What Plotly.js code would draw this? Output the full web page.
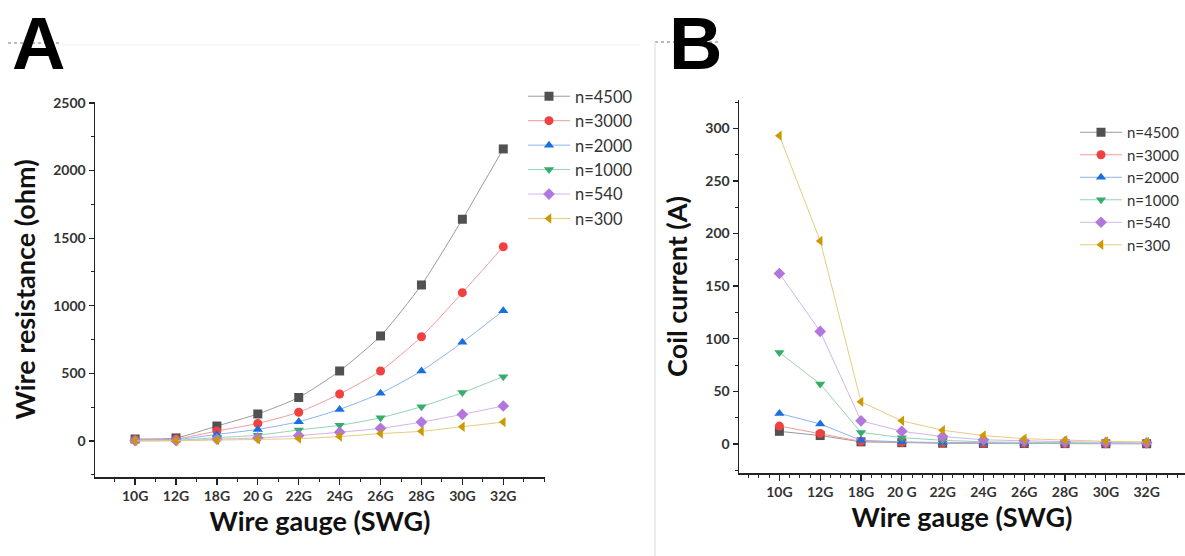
<!DOCTYPE html>
<html>
<head>
<meta charset="utf-8">
<script src="https://cdn.plot.ly/plotly-3.0.1.min.js"></script>
<style>html,body{margin:0;padding:0;background:#fff;}#chart{width:1185px;height:556px;}</style>
</head>
<body>
<div id="chart"></div>
<script>
// ---- data ----
const categories = ['10G','12G','18G','20 G','22G','24G','26G','28G','30G','32G'];
const seriesNames = ['n=4500','n=3000','n=2000','n=1000','n=540','n=300'];

// Panel A: wire resistance (ohm)
const res4500 = [15, 23, 111, 200, 322, 518, 777, 1154, 1640, 2160];
const res3000 = [10, 15, 74, 130, 213, 348, 518, 771, 1097, 1437];
const res2000 = [7, 10, 49, 86, 143, 234, 353, 518, 730, 964];
const res1000 = [3, 5, 25, 43, 82, 116, 172, 254, 358, 476];
const res540  = [2, 3, 13, 23, 40, 65, 94, 140, 197, 259];
const res300  = [1, 2, 7, 12, 18, 33, 55, 72, 106, 140];

// Panel B: coil current (A)
const cur4500 = [12, 8, 2, 1.2, 0.7, 0.5, 0.4, 0.3, 0.2, 0.2];
const cur3000 = [17, 10, 2.5, 1.5, 1, 0.7, 0.5, 0.4, 0.3, 0.3];
const cur2000 = [29, 19, 3.5, 2, 1.3, 0.9, 0.7, 0.5, 0.4, 0.4];
const cur1000 = [87, 57, 11, 6, 3.5, 2, 1.5, 1, 0.8, 0.6];
const cur540  = [162, 107, 22, 12, 7, 4, 3, 2, 1.5, 1.1];
const cur300  = [293, 193, 40, 22, 13, 8, 5, 3.5, 2.5, 2];

// ---- styles ----
const colors  = ['#515151', '#F14040', '#1A6FDF', '#37AD6B', '#B177DE', '#CC9900'];
const lineCol = ['#9a9a9a', '#f59a9a', '#8cb4ec', '#96d4b0', '#d3b4ec', '#e6cc80'];
const symbols = ['square', 'circle', 'triangle-up', 'triangle-down', 'diamond', 'triangle-left'];

const W = 1185, H = 556;
const xIdx = categories.map((_, i) => i);
const resSeries = [res4500, res3000, res2000, res1000, res540, res300];
const curSeries = [cur4500, cur3000, cur2000, cur1000, cur540, cur300];

const traces = [];
resSeries.forEach((ys, k) => traces.push({
  x: xIdx, y: ys, name: seriesNames[k], type: 'scatter', mode: 'lines+markers',
  xaxis: 'x', yaxis: 'y', legend: 'legend',
  line: {color: lineCol[k], width: 1, shape: 'spline', smoothing: 0.6},
  marker: {symbol: symbols[k], size: 9, color: colors[k]}
}));
curSeries.forEach((ys, k) => traces.push({
  x: xIdx, y: ys, name: seriesNames[k], type: 'scatter', mode: 'lines+markers',
  xaxis: 'x2', yaxis: 'y2', legend: 'legend2',
  line: {color: lineCol[k], width: 1},
  marker: {symbol: symbols[k], size: 9, color: colors[k]}
}));

const tickFont = {family: 'Lato, "Open Sans", sans-serif', size: 14, color: '#333', weight: 'bold'};
const titleFont = {family: 'Lato, "Open Sans", sans-serif', size: 27, color: '#111', weight: 'bold'};

function xAxis(domain, range, minorStep) {
  return {
    domain: domain, range: range, type: 'linear',
    tickvals: xIdx, ticktext: categories,
    showgrid: false, zeroline: false, showline: true, linecolor: '#222', linewidth: 1.5,
    ticks: 'outside', ticklen: 6, tickwidth: 1.3, tickcolor: '#222',
    minor: {dtick: minorStep, tick0: 0, ticks: 'outside', ticklen: 3, tickcolor: '#222', tickwidth: 1},
    tickfont: tickFont,
    title: {text: 'Wire gauge (SWG)', font: titleFont, standoff: 6}
  };
}
function yAxis(domain, range, dtick, anchor, title) {
  return {
    domain: domain, range: range, anchor: anchor,
    dtick: dtick, tick0: 0,
    showgrid: false, zeroline: false, showline: true, linecolor: '#222', linewidth: 1.5,
    ticks: 'outside', ticklen: 5, tickwidth: 1.3, tickcolor: '#222',
    minor: {dtick: dtick / 2, ticks: 'outside', ticklen: 3, tickcolor: '#222', tickwidth: 1},
    tickfont: tickFont,
    title: {text: title, font: titleFont, standoff: 10}
  };
}

const letterFont = {family: '"Liberation Sans", Arial, sans-serif', size: 74, color: '#000', weight: 'bold'};

const layout = {
  width: W, height: H,
  margin: {l: 0, r: 0, t: 0, b: 0},
  paper_bgcolor: '#fff', plot_bgcolor: '#fff',
  showlegend: true,
  xaxis: Object.assign(xAxis([95 / W, 545 / W], [-0.98, 10.02], 0.5), {anchor: 'y'}),
  yaxis: yAxis([1 - 477 / H, 1 - 102 / H], [-266, 2507], 500, 'x', 'Wire resistance (ohm)'),
  xaxis2: Object.assign(xAxis([739 / W, 1], [-0.99, 9.94], 0.25), {anchor: 'y2'}),
  yaxis2: yAxis([1 - 473 / H, 1 - 100 / H], [-27.6, 326.9], 50, 'x2', 'Coil current (A)'),
  legend: {
    x: 523 / W, y: 1 - 79 / H, xanchor: 'left', yanchor: 'top',
    bgcolor: 'rgba(0,0,0,0)', font: {family: 'Lato, "Open Sans", sans-serif', size: 16.5, color: '#333'},
    tracegroupgap: 0, itemwidth: 42
  },
  legend2: {
    x: 1075 / W, y: 1 - 116 / H, xanchor: 'left', yanchor: 'top',
    bgcolor: 'rgba(0,0,0,0)', font: {family: 'Lato, "Open Sans", sans-serif', size: 15, color: '#333'},
    tracegroupgap: 0, itemwidth: 42
  },
  annotations: [
    {text: 'A', xref: 'paper', yref: 'paper', x: 10 / W, y: 1, xanchor: 'left', yanchor: 'top',
     showarrow: false, font: letterFont},
    {text: 'B', xref: 'paper', yref: 'paper', x: 667 / W, y: 1, xanchor: 'left', yanchor: 'top',
     showarrow: false, font: letterFont}
  ],
  shapes: [
    {type: 'line', xref: 'paper', yref: 'paper', x0: 8 / W, x1: 62 / W, y0: 1 - 43 / H, y1: 1 - 43 / H,
     line: {color: '#777', width: 1.2, dash: 'dot'}},
    {type: 'line', xref: 'paper', yref: 'paper', x0: 62 / W, x1: 640 / W, y0: 1 - 45 / H, y1: 1 - 45 / H,
     line: {color: '#f0f0f0', width: 1}},
    {type: 'line', xref: 'paper', yref: 'paper', x0: 655 / W, x1: 720 / W, y0: 1 - 42 / H, y1: 1 - 42 / H,
     line: {color: '#777', width: 1.2, dash: 'dot'}},
    {type: 'line', xref: 'paper', yref: 'paper', x0: 655 / W, x1: 655 / W, y0: 1 - 42 / H, y1: 0,
     line: {color: '#e6e6e6', width: 1.5}}
  ]
};

Plotly.newPlot('chart', traces, layout, {displayModeBar: false, staticPlot: true});
</script>
</body>
</html>
